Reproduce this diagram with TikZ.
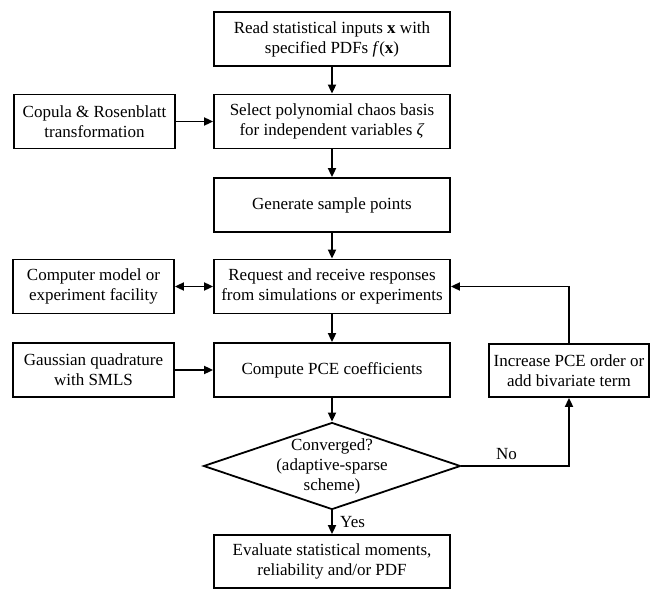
\documentclass[tikz,border=0pt]{standalone}
\usepackage{fontspec}
\setmainfont{Liberation Serif}
\usetikzlibrary{arrows.meta}
\usetikzlibrary{shapes.geometric}
\tikzset{
    flowbox/.style={draw,line width=1.8pt,rectangle,align=center,inner sep=0pt,
        minimum height=54pt,font=\fontsize{17}{20}\selectfont},
    mainbox/.style={flowbox,minimum width=236pt},
    sidebox/.style={flowbox,minimum width=161pt},
    decision/.style={draw,line width=1.8pt,diamond,aspect=2.95,inner sep=0pt,
        minimum width=257pt,minimum height=87pt},
    flowarrow/.style={line width=1.8pt,-{Triangle[length=9pt,width=8pt]}},
    flowtext/.style={font=\fontsize{17}{20}\selectfont},
}
\begin{document}
\begin{tikzpicture}[x=1pt,y=-1pt]
\useasboundingbox (0,0) rectangle (652,588);
% main column
\node[mainbox] (read) at (332,39) {Read statistical inputs \textbf{x} with\\specified PDFs \textit{f}(\textbf{x})};
\node[mainbox] (select) at (332,121.5) {Select polynomial chaos basis\\for independent variables \textit{ζ}};
\node[mainbox] (generate) at (332,205) {Generate sample points};
\node[mainbox] (request) at (332,286.5) {Request and receive responses\\from simulations or experiments};
\node[mainbox] (compute) at (332,370) {Compute PCE coefficients};
\node[decision,label={[flowtext,align=center]center:Converged?\\(adaptive-sparse\\scheme)}] (conv) at (332,466) {};
\node[mainbox,minimum height=53pt] (evaluate) at (332,561.5) {Evaluate statistical moments,\\reliability and/or PDF};
% side boxes
\node[sidebox] (copula) at (94.5,121.5) {Copula \& Rosenblatt\\transformation};
\node[sidebox] (model) at (93.5,286.5) {Computer model or\\experiment facility};
\node[sidebox] (quad) at (93.5,370) {Gaussian quadrature\\with SMLS};
\node[sidebox,minimum width=160pt,minimum height=53pt] (increase) at (569,370.5) {Increase PCE order or\\add bivariate term};
% connectors
\draw[flowarrow] (read) -- (select);
\draw[flowarrow] (select) -- (generate);
\draw[flowarrow] (generate) -- (request);
\draw[flowarrow] (request) -- (compute);
\draw[flowarrow] (compute) -- (conv);
\draw[flowarrow] (conv) -- node[flowtext,right=4pt] {Yes} (evaluate);
\draw[flowarrow] (copula) -- (select);
\draw[flowarrow,{Triangle[length=9pt,width=8pt]}-{Triangle[length=9pt,width=8pt]}] (model) -- (request);
\draw[flowarrow] (quad) -- (compute);
\draw[flowarrow] (conv.east) -| node[flowtext,pos=0.21,above=2pt] {No} (increase.south);
\draw[flowarrow] (increase.north) |- (request.east);
\end{tikzpicture}
\end{document}
